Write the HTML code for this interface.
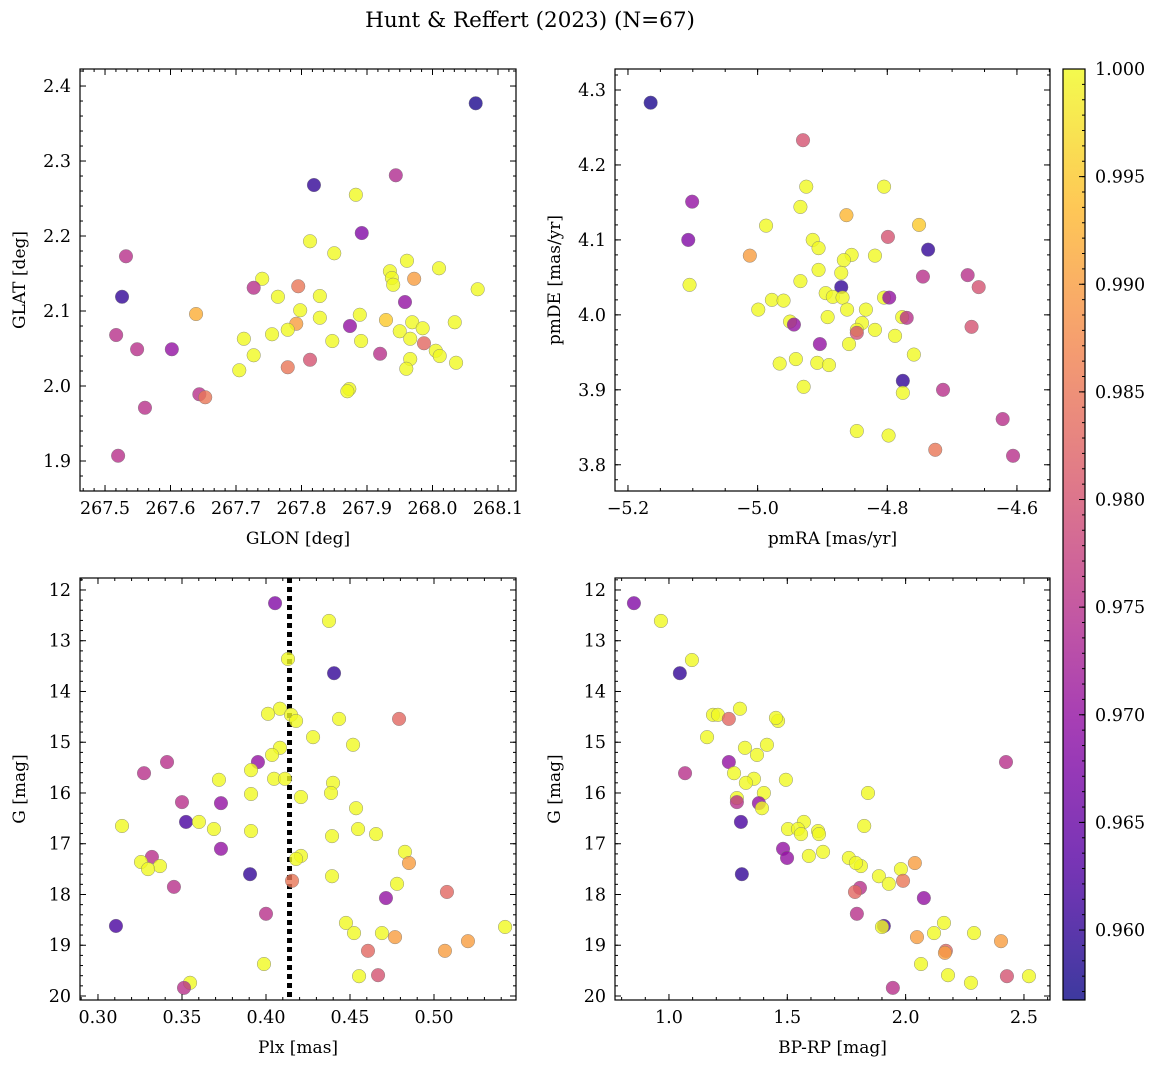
<!DOCTYPE html>
<html><head><meta charset="utf-8"><style>
html,body{margin:0;padding:0;background:#fff;}
svg{display:block;font-family:"DejaVu Serif","Liberation Serif",serif;}
</style></head><body>
<svg id="fig" width="1161" height="1068" viewBox="0 0 1161 1068" xmlns="http://www.w3.org/2000/svg">
<text x="530" y="27" text-anchor="middle" font-size="21.5">Hunt &amp; Reffert (2023) (N=67)</text>
</svg>
<script>
// ---- data ----
const glon=[268.066,267.819,267.944,267.883,267.892,267.532,267.813,267.850,267.961,267.935,268.010,267.740,267.727,267.795,267.938,267.972,267.940,268.069,267.764,267.828,267.526,267.639,267.798,267.828,267.889,267.929,267.958,267.792,267.779,267.874,267.712,267.950,267.969,267.985,267.966,267.891,267.847,267.755,268.034,267.517,267.987,268.005,268.011,267.966,268.036,267.549,267.602,267.727,267.813,267.920,267.705,267.960,267.779,267.873,267.870,267.644,267.653,267.561,267.520];
const glat=[2.377,2.268,2.281,2.255,2.204,2.173,2.193,2.177,2.167,2.153,2.157,2.143,2.131,2.133,2.144,2.143,2.135,2.129,2.119,2.120,2.119,2.096,2.101,2.091,2.095,2.088,2.112,2.083,2.075,2.080,2.063,2.073,2.085,2.077,2.063,2.060,2.060,2.069,2.085,2.068,2.057,2.047,2.040,2.036,2.031,2.049,2.049,2.041,2.035,2.043,2.021,2.023,2.025,1.996,1.993,1.989,1.985,1.971,1.907];
const prob1=[0.958,0.960,0.974,1,0.968,0.975,1,1,1,1,1,1,0.975,0.985,1,0.99,1,1,1,1,0.96,0.992,1,1,1,0.995,0.97,0.99,1,0.97,1,1,1,1,1,1,1,1,1,0.975,0.983,1,1,1,1,0.975,0.97,1,0.98,0.975,1,1,0.985,1,1,0.975,0.985,0.975,0.975];

const pmra=[-5.165,-4.930,-5.101,-5.107,-4.925,-4.805,-4.934,-4.863,-4.987,-4.751,-4.915,-4.799,-4.737,-4.906,-5.012,-4.855,-4.819,-4.867,-4.906,-5.105,-4.934,-4.871,-4.745,-4.676,-4.659,-4.871,-4.895,-4.884,-4.869,-4.978,-4.960,-4.805,-4.797,-4.999,-4.833,-4.862,-4.892,-4.777,-4.770,-4.950,-4.944,-4.839,-4.819,-4.847,-4.847,-4.788,-4.670,-4.859,-4.904,-4.759,-4.941,-4.966,-4.908,-4.890,-4.776,-4.929,-4.776,-4.714,-4.622,-4.847,-4.798,-4.726,-4.606];
const pmde=[4.283,4.233,4.151,4.100,4.171,4.171,4.144,4.133,4.119,4.120,4.100,4.104,4.087,4.089,4.079,4.080,4.079,4.073,4.060,4.040,4.045,4.056,4.051,4.053,4.037,4.037,4.029,4.024,4.023,4.020,4.019,4.023,4.023,4.007,4.007,4.007,3.997,3.997,3.996,3.991,3.987,3.989,3.980,3.980,3.976,3.972,3.984,3.961,3.961,3.947,3.941,3.935,3.936,3.933,3.912,3.904,3.896,3.900,3.861,3.845,3.839,3.820,3.812];
const prob2=[0.958,0.98,0.97,0.968,1,1,1,0.993,1,0.995,1,0.98,0.96,1,0.99,1,1,1,1,1,1,1,0.975,0.975,0.98,0.96,1,1,1,1,1,1,0.97,1,1,1,1,1,0.975,1,0.97,1,1,1,0.98,1,0.98,1,0.97,1,1,1,1,1,0.96,1,1,0.975,0.975,1,1,0.985,0.975];

const plx=[0.4054,0.4375,0.4131,0.4405,0.4083,0.4012,0.4149,0.4179,0.4435,0.4792,0.428,0.4083,0.4036,0.4518,0.3952,0.3411,0.3274,0.3911,0.3720,0.4048,0.4113,0.4399,0.4387,0.3911,0.4208,0.35,0.3732,0.4536,0.3524,0.3601,0.3143,0.4548,0.3690,0.3911,0.4655,0.4393,0.3732,0.4827,0.4208,0.4179,0.3321,0.3256,0.3369,0.3298,0.4851,0.3905,0.4393,0.4155,0.4780,0.3452,0.5077,0.4714,0.4,0.4476,0.5423,0.3107,0.4690,0.4524,0.4768,0.5202,0.4607,0.5065,0.3988,0.4554,0.4667,0.3548,0.3512];
const gmag3=[12.26,12.61,13.36,13.64,14.34,14.44,14.46,14.58,14.54,14.54,14.90,15.11,15.25,15.05,15.39,15.39,15.61,15.55,15.74,15.72,15.72,15.80,16.00,16.02,16.08,16.18,16.20,16.30,16.57,16.57,16.65,16.71,16.71,16.75,16.81,16.85,17.10,17.16,17.24,17.30,17.26,17.36,17.44,17.50,17.38,17.60,17.64,17.73,17.79,17.85,17.95,18.07,18.38,18.56,18.64,18.62,18.76,18.76,18.84,18.92,19.11,19.11,19.37,19.61,19.59,19.74,19.84];
const prob3=[0.968,1,1,0.96,1,1,1,1,1,0.983,1,1,1,1,0.97,0.975,0.975,1,1,1,1,1,1,1,1,0.975,0.97,1,0.962,1,1,1,1,1,1,1,0.97,1,1,1,0.975,1,1,1,0.99,0.96,1,0.985,1,0.975,0.983,0.97,0.975,1,1,0.962,1,1,0.99,0.99,0.983,0.99,1,1,0.98,1,0.975];
const plxLine=0.414;

const bprp=[0.852,0.966,1.097,1.046,1.300,1.186,1.207,1.253,1.461,1.452,1.161,1.414,1.321,1.372,1.253,2.424,1.275,1.068,1.494,1.359,1.325,1.841,1.401,1.287,1.287,1.380,1.393,1.304,1.570,1.825,1.503,1.545,1.630,1.634,1.558,1.482,1.651,1.591,1.499,1.760,2.039,1.811,1.790,1.980,1.308,1.887,1.989,1.929,1.807,1.786,2.077,1.794,2.162,1.908,1.900,2.120,2.289,2.048,2.403,2.170,2.166,2.065,2.179,2.428,2.521,2.276,1.946];
const gmag4=[12.26,12.61,13.38,13.64,14.34,14.46,14.46,14.54,14.58,14.52,14.90,15.05,15.11,15.25,15.39,15.39,15.61,15.61,15.74,15.72,15.80,16.00,16.00,16.10,16.18,16.20,16.30,16.57,16.57,16.65,16.71,16.71,16.75,16.81,16.81,17.10,17.16,17.24,17.28,17.28,17.38,17.44,17.38,17.50,17.60,17.64,17.73,17.79,17.87,17.95,18.07,18.38,18.56,18.62,18.64,18.76,18.76,18.84,18.92,19.11,19.15,19.37,19.59,19.61,19.61,19.74,19.84];
const prob4=[0.968,1,1,0.96,1,1,1,0.983,1,1,1,1,1,1,0.97,0.975,1,0.975,1,1,1,1,1,1,0.975,0.97,1,0.962,1,1,1,1,1,1,1,0.97,1,1,0.97,1,0.99,1,1,1,0.96,1,0.985,1,0.975,0.983,0.97,0.975,1,0.962,1,1,1,0.99,0.99,0.983,0.99,1,1,0.98,1,1,0.975];

const cbTicks=[0.960,0.965,0.970,0.975,0.980,0.985,0.990,0.995,1.000];
const cmin=0.95675, cmax=1.0;

// ---- helpers ----
const NS="http://www.w3.org/2000/svg";
const svg=document.getElementById('fig');
function mk(tag,attrs,parent){const e=document.createElementNS(NS,tag);for(const k in attrs)e.setAttribute(k,attrs[k]);(parent||svg).appendChild(e);return e;}
const stops=[[13,8,135],[84,2,163],[139,10,165],[185,50,137],[219,92,104],[244,136,73],[254,188,43],[240,249,33]];
function plasma(t){t=Math.max(0,Math.min(1,t));const s=t*(stops.length-1);const i=Math.min(stops.length-2,Math.floor(s));const f=s-i;
 const c=stops[i].map((v,k)=>Math.round(v+(stops[i+1][k]-v)*f));return `rgb(${c[0]},${c[1]},${c[2]})`;}
function pc(p){return plasma((p-cmin)/(cmax-cmin));}
const TF=17.5, LF=17;

function panel(o){
 const g=mk('g',{});
 
 
 const sx=v=>o.L+(v-o.x0)/(o.x1-o.x0)*(o.R-o.L);
 const sy=v=>o.T+(o.y1-v)/(o.y1-o.y0)*(o.B-o.T);
 const clipId=o.name+'-clip';
 const cp=mk('clipPath',{id:clipId},g);mk('rect',{x:o.L,y:o.T,width:o.R-o.L,height:o.B-o.T},cp);
 const pg=mk('g',{'clip-path':`url(#${clipId})`},g);
 if(o.vline!==undefined){const l=mk('line',{x1:sx(o.vline),x2:sx(o.vline),y1:o.T,y2:o.B,stroke:'#000','stroke-width':5,'stroke-dasharray':'5,4'},pg);
  
  }
 o.xs.forEach((v,i)=>{const c=mk('circle',{cx:sx(v),cy:sy(o.ys[i]),r:6.8,fill:pc(o.ps[i]),'fill-opacity':0.8,stroke:'#777','stroke-width':0.5,'stroke-opacity':0.8},pg);
  
  });
 mk('rect',{x:o.L,y:o.T,width:o.R-o.L,height:o.B-o.T,fill:'none',stroke:'#000','stroke-width':1.2},g);
 const eps=1e-9;
 function xt(step,len){const n0=Math.ceil((o.x0)/step-eps),n1=Math.floor(o.x1/step+eps);for(let n=n0;n<=n1;n++){const x=sx(n*step);
  mk('line',{x1:x,x2:x,y1:o.B,y2:o.B-len,stroke:'#000','stroke-width':1},g);mk('line',{x1:x,x2:x,y1:o.T,y2:o.T+len,stroke:'#000','stroke-width':1},g);}}
 function yt(step,len){const lo=Math.min(o.y0,o.y1),hi=Math.max(o.y0,o.y1);const n0=Math.ceil(lo/step-eps),n1=Math.floor(hi/step+eps);for(let n=n0;n<=n1;n++){const y=sy(n*step);
  mk('line',{x1:o.L,x2:o.L+len,y1:y,y2:y,stroke:'#000','stroke-width':1},g);mk('line',{x1:o.R,x2:o.R-len,y1:y,y2:y,stroke:'#000','stroke-width':1},g);}}
 xt(o.xmin,3);xt(o.xmaj,6);yt(o.ymin,3);yt(o.ymaj,6);
 o.xticks.forEach(v=>{const t=mk('text',{x:sx(v),y:o.B+23,'text-anchor':'middle','font-size':TF},g);t.textContent=o.xfmt(v);
  
  });
 o.yticks.forEach(v=>{const t=mk('text',{x:o.L-9,y:sy(v)+6,'text-anchor':'end','font-size':TF},g);t.textContent=o.yfmt(v);
  
  });
 const xl=mk('text',{x:(o.L+o.R)/2,y:o.B+53,'text-anchor':'middle','font-size':LF},g);xl.textContent=o.xlabel;
 
 
 const ly=(o.T+o.B)/2;
 const yl=mk('text',{x:o.L-55,y:ly,'text-anchor':'middle','font-size':LF,transform:`rotate(-90 ${o.L-55} ${ly})`},g);yl.textContent=o.ylabel;
 
 
}
const rng=(a,b,s)=>{const r=[];for(let v=a;v<=b+1e-9;v+=s)r.push(+v.toFixed(6));return r;};
const neg=s=>s.replace('-','\u2212');

panel({name:'glon-glat-panel',L:80,R:516,T:69,B:491,x0:267.4618,x1:268.1275,y0:1.86,y1:2.4227,xs:glon,ys:glat,ps:prob1,
 xmaj:0.1,xmin:0.1/6,ymaj:0.1,ymin:0.02,xticks:rng(267.5,268.1,0.1),yticks:rng(1.9,2.4,0.1),xfmt:v=>v.toFixed(1),yfmt:v=>v.toFixed(1),xlabel:'GLON [deg]',ylabel:'GLAT [deg]'});
panel({name:'pm-panel',L:615,R:1050,T:69,B:491,x0:-5.220,x1:-4.549,y0:3.765,y1:4.328,xs:pmra,ys:pmde,ps:prob2,
 xmaj:0.2,xmin:0.05,ymaj:0.1,ymin:0.02,xticks:rng(-5.2,-4.6,0.2),yticks:rng(3.8,4.3,0.1),xfmt:v=>neg(v.toFixed(1)),yfmt:v=>v.toFixed(1),xlabel:'pmRA [mas/yr]',ylabel:'pmDE [mas/yr]'});
panel({name:'plx-g-panel',L:80,R:516,T:578,B:1000,x0:0.2893,x1:0.5488,y0:20.079,y1:11.764,xs:plx,ys:gmag3,ps:prob3,vline:plxLine,
 xmaj:0.05,xmin:0.01,ymaj:1,ymin:0.2,xticks:rng(0.30,0.50,0.05),yticks:rng(12,20,1),xfmt:v=>v.toFixed(2),yfmt:v=>String(v),xlabel:'Plx [mas]',ylabel:'G [mag]'});
panel({name:'cmd-panel',L:615,R:1050,T:578,B:1000,x0:0.772,x1:2.610,y0:20.079,y1:11.764,xs:bprp,ys:gmag4,ps:prob4,
 xmaj:0.5,xmin:0.1,ymaj:1,ymin:0.2,xticks:rng(1.0,2.5,0.5),yticks:rng(12,20,1),xfmt:v=>v.toFixed(1),yfmt:v=>String(v),xlabel:'BP-RP [mag]',ylabel:'G [mag]'});

// colorbar
(function(){
 const L=1063,R=1085,T=69,B=1000;
 const g=mk('g',{});
 
 
 const gr=mk('linearGradient',{id:'cbg',x1:0,y1:1,x2:0,y2:0},g);
 for(let i=0;i<=20;i++){mk('stop',{offset:i/20,'stop-color':plasma(i/20),'stop-opacity':0.8},gr);}
 mk('rect',{x:L,y:T,width:R-L,height:B-T,fill:'url(#cbg)',stroke:'#000','stroke-width':1.2},g);
 const sy=v=>T+(cmax-v)/(cmax-cmin)*(B-T);
 const mstep=0.005/7;
 for(let n=0;;n++){const v=cmax-n*mstep;if(v<cmin)break;const y=sy(v);
  mk('line',{x1:R,x2:R-3,y1:y,y2:y,stroke:'#000'},g);}
 cbTicks.forEach(v=>{const y=sy(v);mk('line',{x1:R,x2:R-6,y1:y,y2:y,stroke:'#000'},g);
  const t=mk('text',{x:R+10,y:y+6,'font-size':TF},g);t.textContent=v.toFixed(3);
  
  });
})();
</script>
</body></html>
